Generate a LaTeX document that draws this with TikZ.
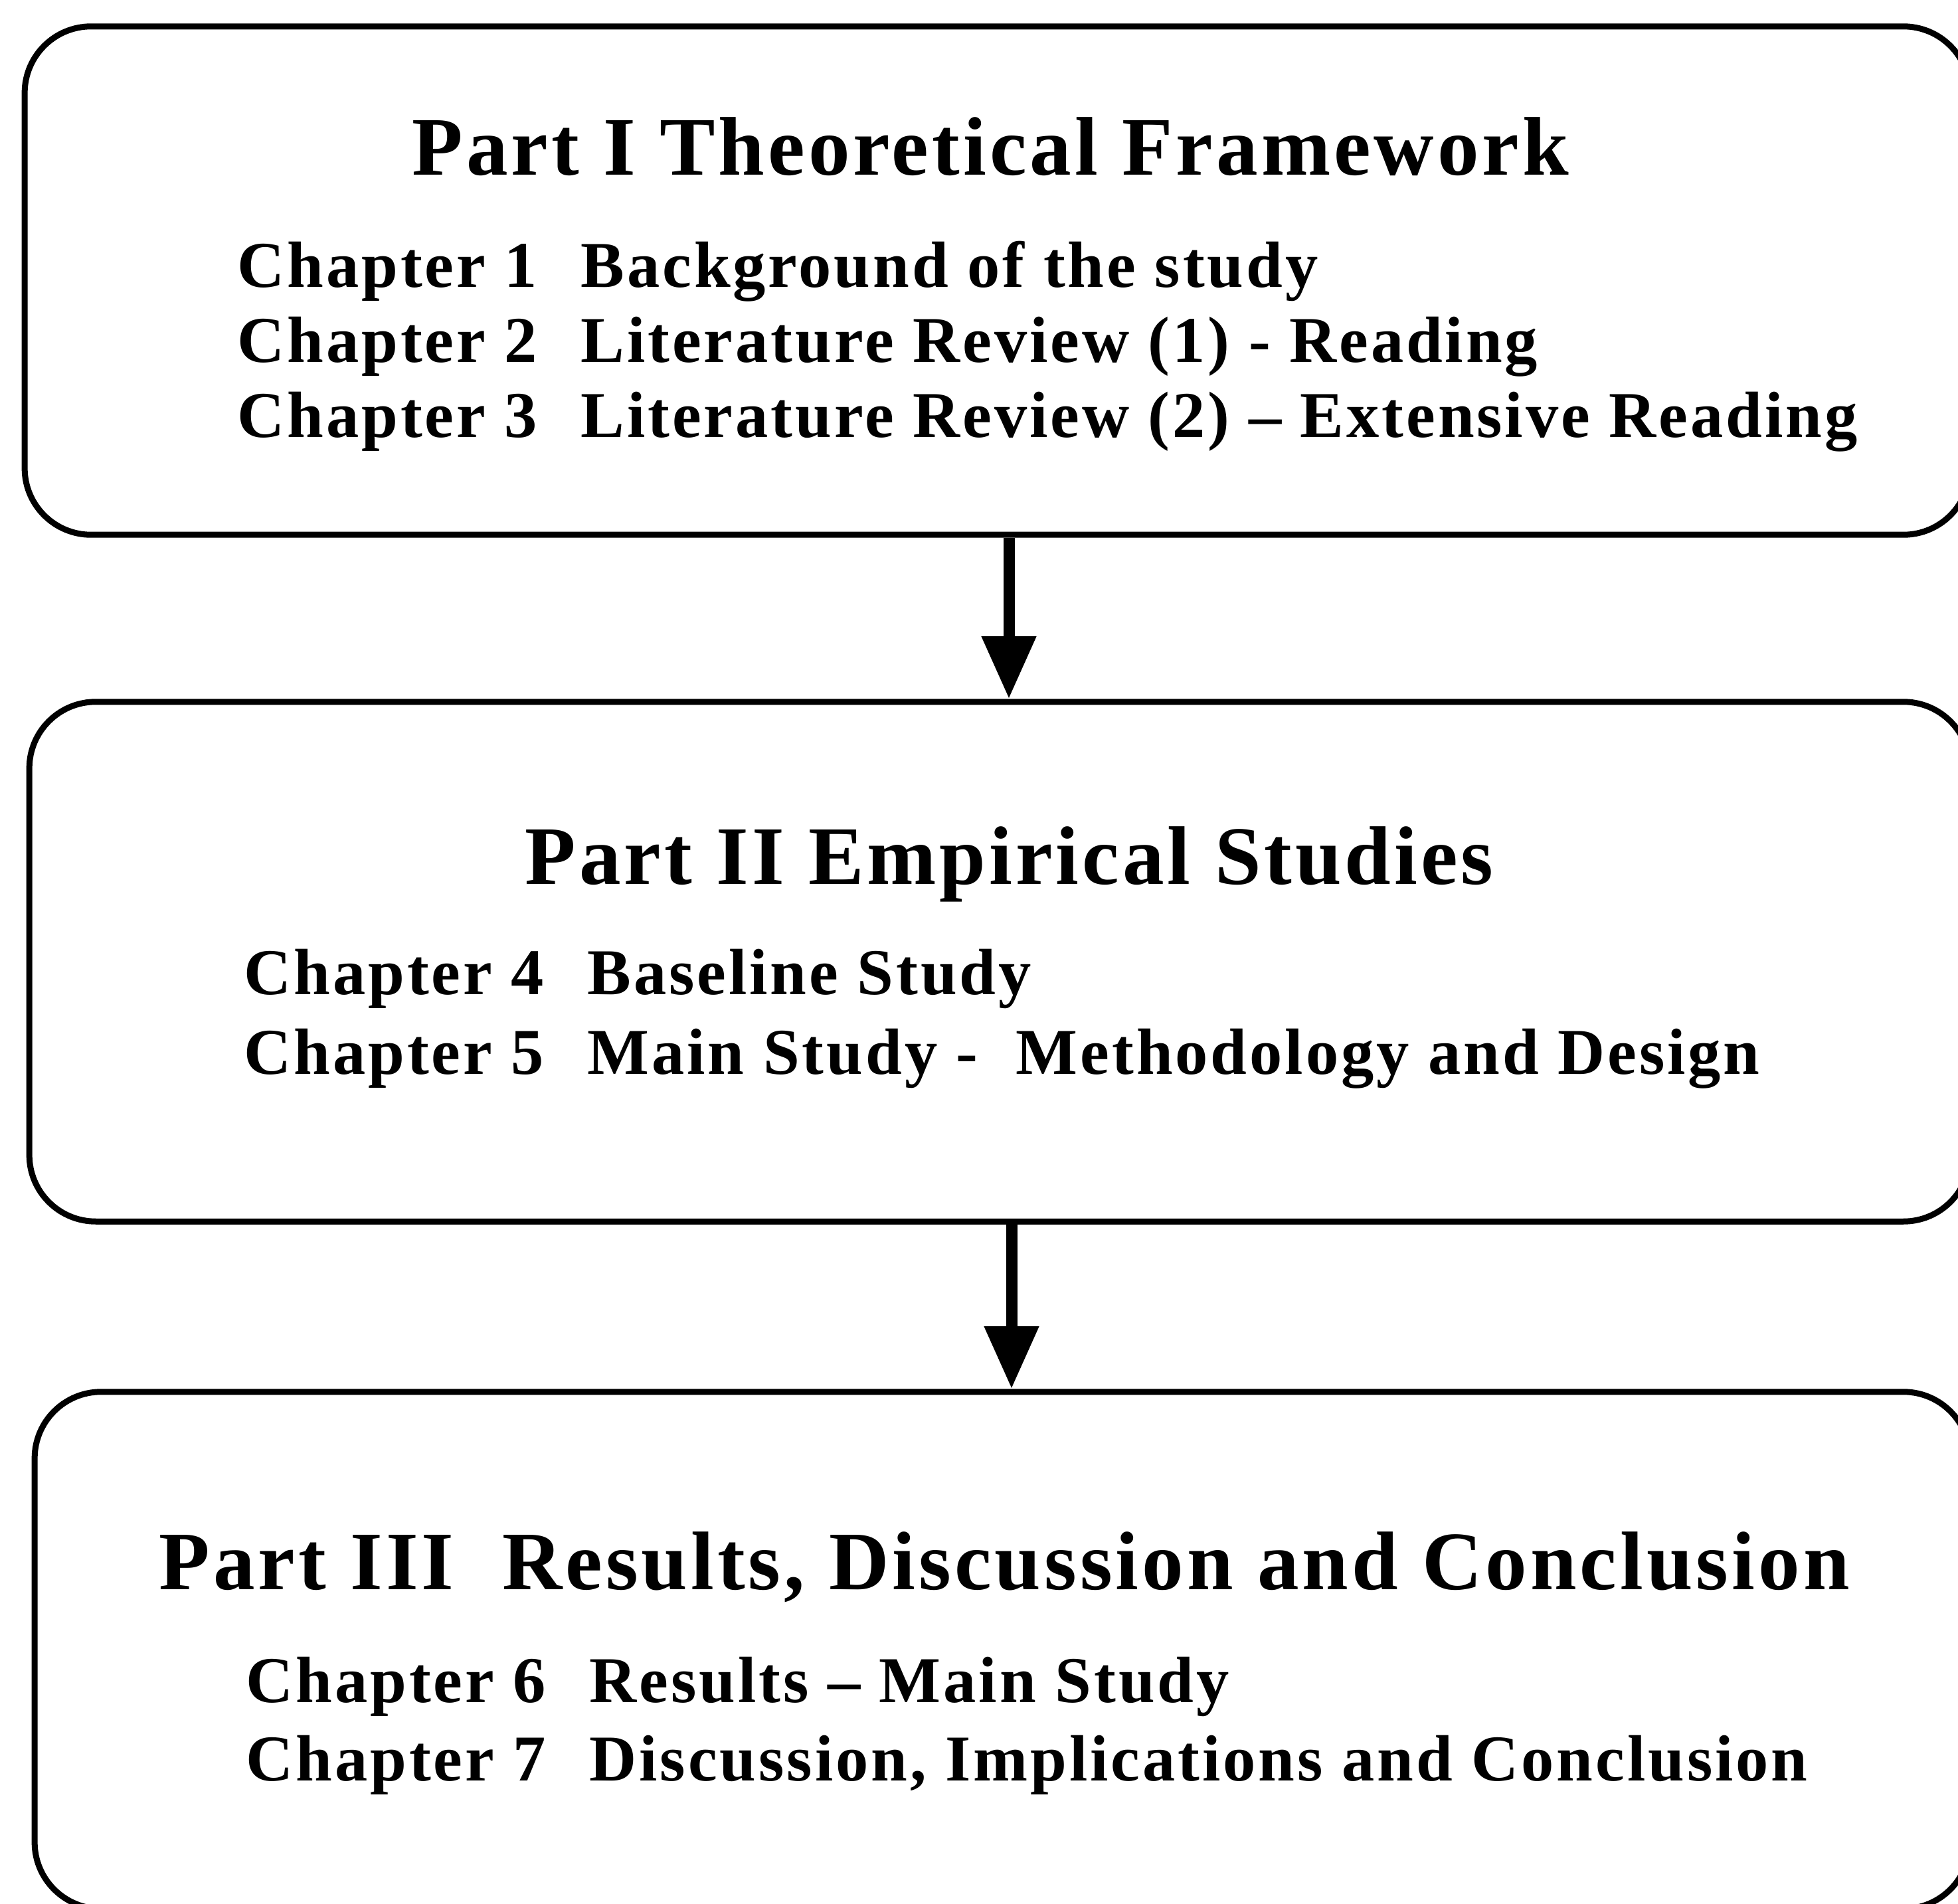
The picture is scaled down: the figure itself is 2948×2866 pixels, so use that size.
\documentclass[tikz,border=0pt]{standalone}
\usepackage{fontspec}
\setmainfont{Liberation Serif}[LetterSpace=4]
\usetikzlibrary{arrows.meta}
\tikzset{
  partbox/.style={draw=black, line width=0.09cm, rounded corners=1.0cm},
  parttitle/.style={anchor=base west, inner sep=0pt, font=\fontsize{35.6}{40}\selectfont\bfseries},
  chaptxt/.style={anchor=base west, inner sep=0pt, font=\fontsize{28}{32}\selectfont\bfseries},
  flowarrow/.style={line width=0.17cm, -{Triangle[length=0.94cm,width=0.78cm]}}
}
\begin{document}
\begin{tikzpicture}[x=0.01cm,y=-0.01cm]
\useasboundingbox (0,0) rectangle (2948,2866);
\fill[white] (0,0) rectangle (2948,2866);
% boxes
\node[partbox, minimum width=29.27cm, minimum height=7.65cm] (b1) at (1501.5,422.5) {};
\node[partbox, minimum width=29.20cm, minimum height=7.82cm] (b2) at (1505,1448) {};
\node[partbox, minimum width=29.12cm, minimum height=7.78cm] (b3) at (1509,2485) {};
% Part I
\node[parttitle] (t1) at (620,263) {Part I Theoretical Framework};
\node[chaptxt] (c1) at (357,432) {Chapter 1};
\node[chaptxt] (d1) at (874,432) {Background of the study};
\node[chaptxt] (c2) at (357,545) {Chapter 2};
\node[chaptxt] (d2) at (874,545) {Literature Review (1) - Reading};
\node[chaptxt] (c3) at (357,658) {Chapter 3};
\node[chaptxt] (d3) at (874,658) {Literature Review (2) -- Extensive Reading};
% Part II
\node[parttitle] (t2) at (790,1331) {Part II Empirical Studies};
\node[chaptxt] (c4) at (367,1497) {Chapter 4};
\node[chaptxt] (d4) at (884,1497) {Baseline Study};
\node[chaptxt] (c5) at (367,1617) {Chapter 5};
\node[chaptxt] (d5) at (884,1617) {Main Study -\ \ Methodology and Design};
% Part III
\node[parttitle] (t3) at (239,2393) {Part III\ \ Results, Discussion and Conclusion};
\node[chaptxt] (c6) at (370,2563) {Chapter 6};
\node[chaptxt] (d6) at (887,2563) {Results -- Main Study};
\node[chaptxt] (c7) at (370,2681) {Chapter 7};
\node[chaptxt] (d7) at (887,2681) {Discussion, Implications and Conclusion};
% arrows
\coordinate (a1) at (1519,0);
\coordinate (a2) at (1523,0);
\draw[flowarrow] (b1.south -| a1) -- (b2.north -| a1);
\draw[flowarrow] (b2.south -| a2) -- (b3.north -| a2);
\end{tikzpicture}
\end{document}
